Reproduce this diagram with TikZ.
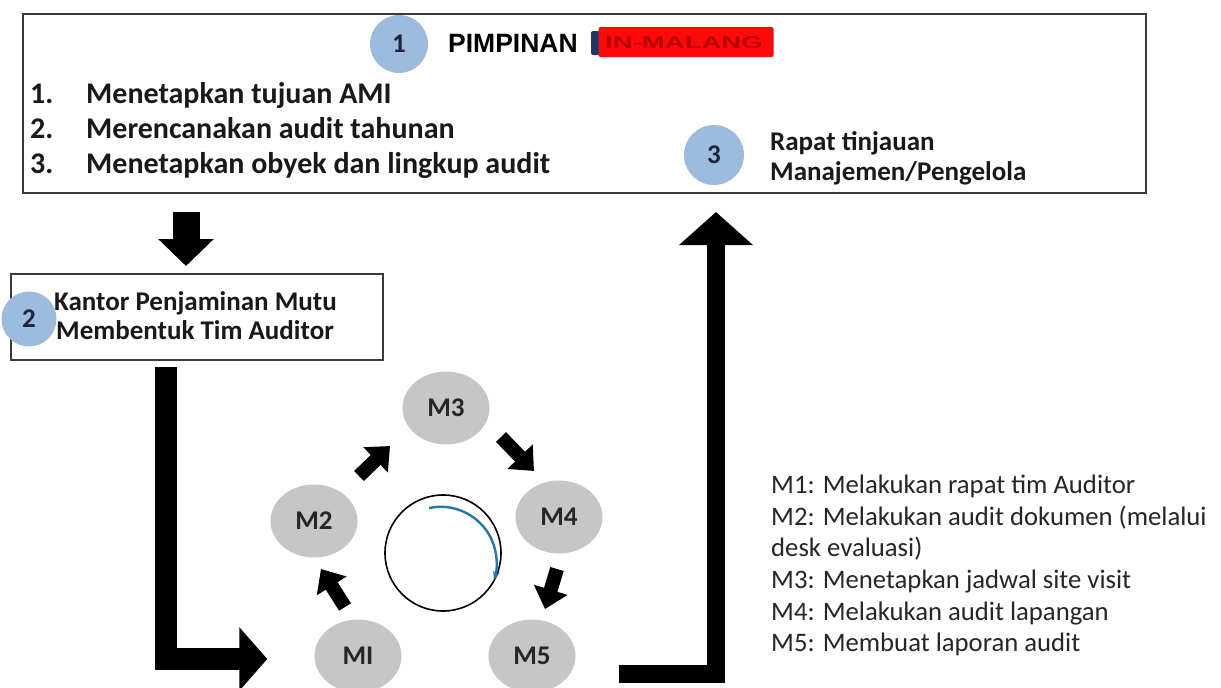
\documentclass[tikz,border=0pt]{standalone}
\usepackage{fontspec}
\setmainfont{Carlito}
\newfontfamily\arialf{Liberation Sans}
\usetikzlibrary{arrows.meta,calc,shapes.geometric}
\definecolor{boxline}{HTML}{3A3A3A}
\definecolor{numblue}{HTML}{9DBBDD}
\definecolor{numtext}{HTML}{1C2540}
\definecolor{ellgray}{HTML}{C6C6C6}
\definecolor{elltext}{HTML}{262626}
\definecolor{arcblue}{HTML}{2477A8}
\definecolor{redbox}{HTML}{FF0A0A}
\definecolor{redtext}{HTML}{B80000}
\definecolor{navybar}{HTML}{1F3864}
\tikzset{
  frame/.style={draw=boxline, line width=2pt, anchor=north west, inner sep=0pt},
  numc/.style={circle, fill=numblue, minimum size=#1, inner sep=0pt, text=numtext,
     font=\bfseries\fontsize{27}{27}\selectfont},
  listtxt/.style={anchor=base west, inner sep=0pt, font=\bfseries\fontsize{30}{34}\selectfont, text=black!90},
  midtxt/.style={anchor=base west, inner sep=0pt, font=\bfseries\fontsize{27}{30}\selectfont, text=black!90},
  legtxt/.style={anchor=base west, inner sep=0pt, font=\fontsize{26.7}{31}\selectfont, text=black!85},
  mell/.style={ellipse, fill=ellgray, minimum width=87pt, minimum height=73pt, inner sep=0pt,
     text=elltext, font=\bfseries\fontsize{27}{27}\selectfont},
  blk/.style={line width=14pt, -{Triangle[length=20pt,width=34pt]}},
  bigarrow/.style={line width=#1},
}
\begin{document}
\begin{tikzpicture}[x=1pt,y=-1pt]
\fill[white] (0,0) rectangle (1221,688);
\useasboundingbox (0,0) rectangle (1221,688);
\clip (0,0) rectangle (1221,688);

% ---------- top box ----------
\node[frame, minimum width=1123pt, minimum height=179pt] (topbox) at (22,13) {};
\node[numc=58pt] (c1) at (399,44) {1};
\node[anchor=base west, inner sep=0pt, font=\arialf\bfseries\fontsize{26.5}{30}\selectfont] (pimp) at (448,52) {PIMPINAN};
\fill[navybar, rounded corners=2pt] (591,31) rectangle (600,55);
\node[fill=redbox, rounded corners=2pt, minimum width=175pt, minimum height=30pt, inner sep=0pt] (redb) at (686,42) {};
\node[inner sep=0pt, text=redtext, xscale=1.62, font=\arialf\bfseries\fontsize{17}{17}\selectfont] (inm) at (684,43) {IN-MALANG};

\node[listtxt] (n1) at (30,103) {1.};
\node[listtxt] (t1) at (86,103) {Menetapkan tujuan AMI};
\node[listtxt] (n2) at (30,138) {2.};
\node[listtxt] (t2) at (86,138) {Merencanakan audit tahunan};
\node[listtxt] (n3) at (30,173) {3.};
\node[listtxt] (t3) at (86,173) {Menetapkan obyek dan lingkup audit};

\node[numc=60pt] (c3) at (714,155) {3};
\node[midtxt] (r1) at (770,150) {Rapat tinjauan};
\node[midtxt] (r2) at (770,180) {Manajemen/Pengelola};

% ---------- box 2 ----------
\node[frame, minimum width=372pt, minimum height=86pt] (kpm) at (10,273) {};
\node[numc=55pt] (c2) at (29,319) {2};
\node[midtxt] (k1) at (54,310) {Kantor Penjaminan Mutu};
\node[midtxt] (k2) at (56,339) {Membentuk Tim Auditor};

% ---------- cycle ----------
\node[mell] (m3) at (446,408) {M3};
\node[mell] (m2) at (314,521) {M2};
\node[mell] (m4) at (559,517) {M4};
\node[mell] (m1) at (358,656) {MI};
\node[mell] (m5) at (532,656) {M5};

\node[circle, draw=black, line width=1.6pt, minimum size=116pt, inner sep=0pt] (cyc) at (443,553) {};
\draw[arcblue, line width=2.4pt, -{Stealth[length=9pt,width=7pt]}] (429,508) arc[start angle=102, end angle=-18, radius=56pt];

\coordinate (a1s) at (345,607); \coordinate (a1e) at (321,569);
\coordinate (a2s) at (359,476); \coordinate (a2e) at (390,446);
\coordinate (a3s) at (501,437); \coordinate (a3e) at (534,471);
\coordinate (a4s) at (557,569); \coordinate (a4e) at (545,609);
\draw[blk] (a1s) -- (a1e);
\draw[blk] (a2s) -- (a2e);
\draw[blk] (a3s) -- (a3e);
\draw[blk] (a4s) -- (a4e);

% ---------- big arrows ----------
\coordinate (dx) at (186,0);
\coordinate (lx) at (166,0);
\coordinate (ux) at (716,0);
\draw[bigarrow=27pt, -{Triangle[length=27pt,width=54pt]}]
  ($(topbox.south -| dx)+(0,18)$) -- ($(kpm.north -| dx)+(0,-7)$);
\draw[bigarrow=22pt, -{Triangle[length=28pt,width=62pt]}]
  ($(kpm.south -| lx)+(0,6)$) |- ($(m1.west)+(-47,3)$);
\draw[bigarrow=18pt, -{Triangle[length=33pt,width=72pt]}]
  ($(m5.east)+(43,18)$) -| ($(topbox.south -| ux)+(0,18)$);

% ---------- legend ----------
\node[legtxt] (g1) at (771,493) {M1: Melakukan rapat tim Auditor};
\node[legtxt] (g2) at (771,525) {M2: Melakukan audit dokumen (melalui};
\node[legtxt] (g3) at (771,556) {desk evaluasi)};
\node[legtxt] (g4) at (771,588) {M3: Menetapkan jadwal site visit};
\node[legtxt] (g5) at (771,620) {M4: Melakukan audit lapangan};
\node[legtxt] (g6) at (771,651) {M5: Membuat laporan audit};
\end{tikzpicture}
\end{document}
